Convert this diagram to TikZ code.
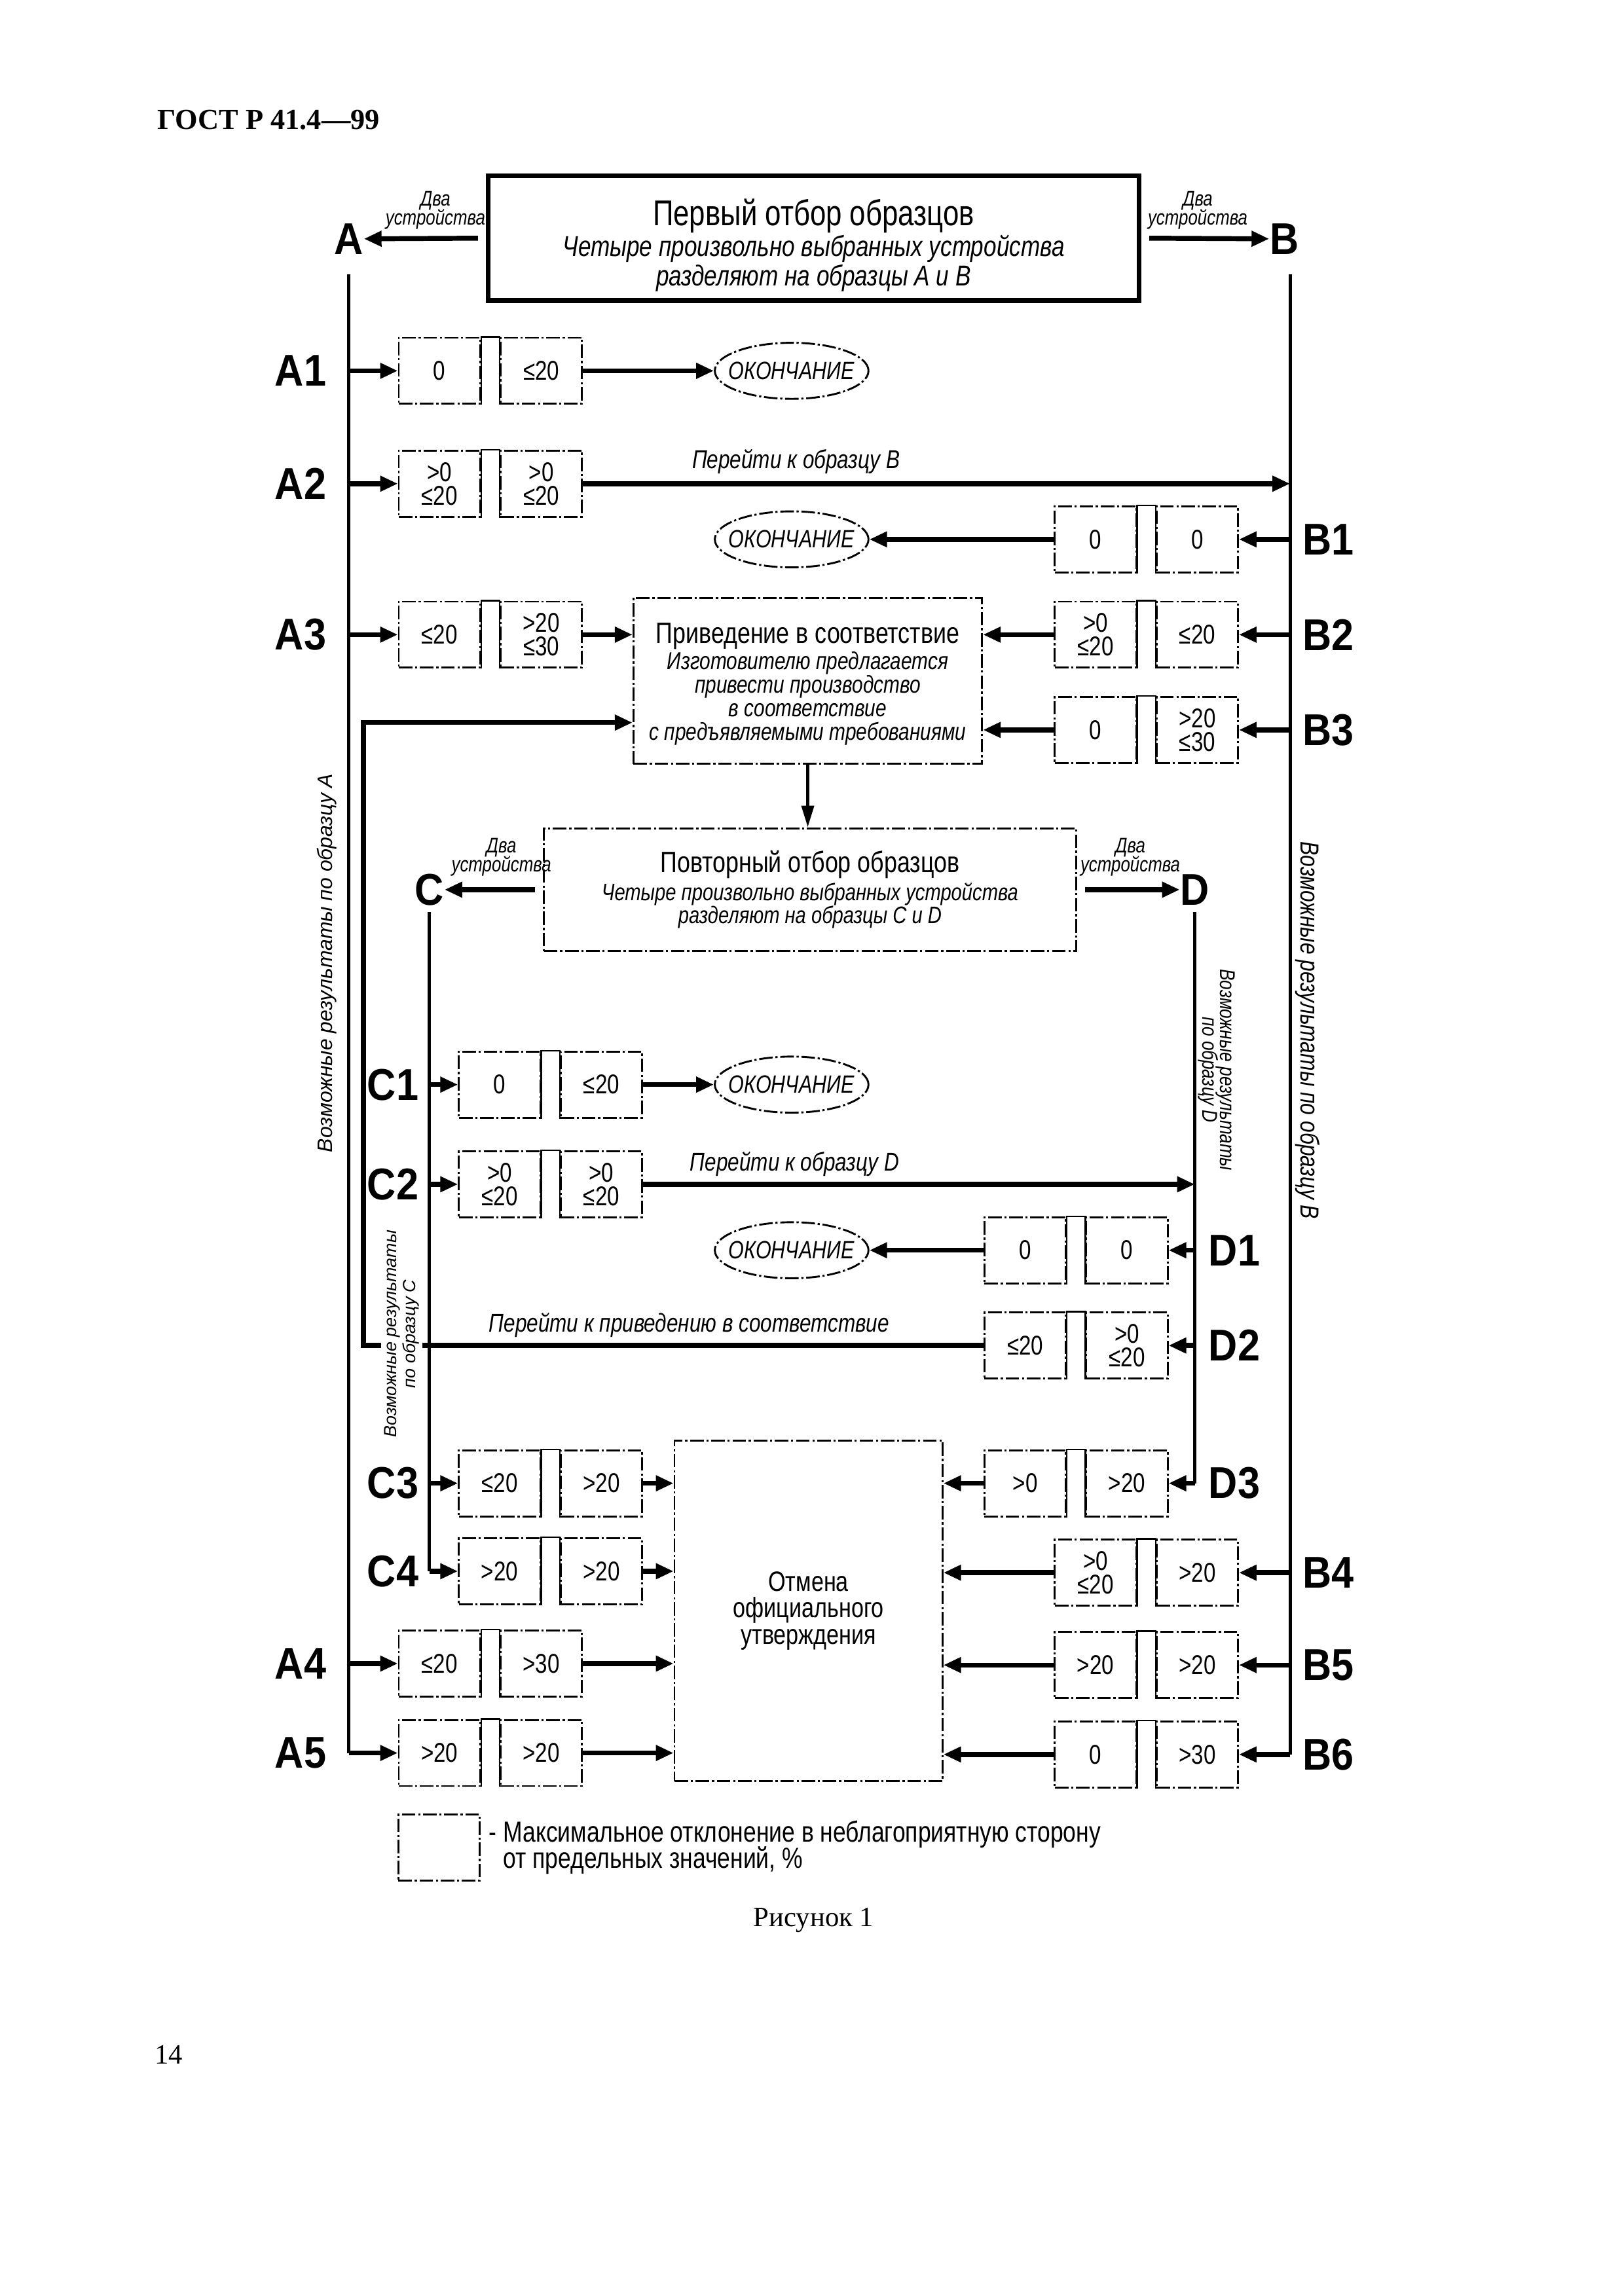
\documentclass[tikz,border=0pt]{standalone}
\usepackage{fontspec}
\setmainfont{Liberation Serif}
\newfontfamily\nar[FakeStretch=0.8]{Liberation Sans}
\newfontfamily\reg{Liberation Sans}
\newfontfamily\lab[FakeStretch=0.9]{Liberation Sans}
\usetikzlibrary{matrix}
\usetikzlibrary{arrows.meta}
\usetikzlibrary{positioning,shapes.geometric}

\newcommand*\fs[2]{\fontsize{#1}{#2}\selectfont\lineskiplimit=-10pt\relax}
\newcommand*\zw[1]{\makebox[0pt]{#1}}

\begin{document}
\begin{tikzpicture}[x=0.18981mm, y=-0.18981mm,
    dd/.style={dash pattern=on 5pt off 1pt on 0.8pt off 1pt},
    res/.style={draw, dd, line width=0.7pt, minimum width=10.54mm, minimum height=8.55mm, inner sep=0pt, align=center, font=\nar\fs{10}{8.7}},
    pair/.style={inner sep=0pt, column sep=2.39mm, nodes={res}},
    endn/.style={ellipse, draw, dd, line width=0.7pt, minimum width=19.9mm, minimum height=7.26mm, inner sep=0pt, font=\nar\itshape\fs{9.2}{10}},
    biglab/.style={inner sep=0pt, font=\lab\bfseries\fs{16.4}{18}},
    rowlab/.style={inner sep=0pt, font=\lab\bfseries\fs{16.4}{18}},
    two/.style={inner sep=0pt, align=center, font=\nar\itshape\fs{7.8}{7}},
    goto/.style={inner sep=0pt, font=\nar\itshape\fs{9.5}{11}},
    conn/.style={line width=1.8pt, -{Triangle[length=6.5pt,width=5.5pt]}},
    bus/.style={line width=1.2pt},
    thinedge/.style={line width=0.6pt}]
\useasboundingbox (0,0) rectangle (1106.4,1566.5);

\node[anchor=west, inner sep=0pt, font=\bfseries\fs{10.7}{12}] (hdr) at (107,82) {ГОСТ Р 41.4—99};

% first sampling
\node[draw, line width=1.8pt, minimum width=84.3mm, minimum height=15.7mm, align=center, font=\nar\itshape\fs{10.6}{10.8}] (first) at (555,162.5)
    {{\upshape\fs{13.2}{15}\rule{0pt}{15pt}Первый отбор образцов}\\[0.5pt] Четыре произвольно выбранных устройства\\ разделяют на образцы А и В};
\node[biglab] (labA) at (238,163) {A};
\node[biglab] (labB) at (876,163) {B};
\node[two] (twoA) at (297,143.5) {Два\\устройства};
\node[two] (twoB) at (817,143.5) {Два\\устройства};
\draw[conn] ([xshift=-1mm]first.west) -- (labA);
\draw[conn] ([xshift=1mm]first.east) -- (labB);
\coordinate (busA) at (238,187);
\coordinate (busB) at (880,187);

% results A
\matrix (a1) [pair] at (334.5,253) { \node (a1p1) {0}; & \node (a1p2) {≤20}; \\ };
\matrix (a2) [pair] at (334.5,330) { \node (a2p1) {>0\\≤20}; & \node (a2p2) {>0\\≤20}; \\ };
\matrix (a3) [pair] at (334.5,433) { \node (a3p1) {≤20}; & \node (a3p2) {>20\\≤30}; \\ };
\matrix (a4) [pair] at (334.5,1135) { \node (a4p1) {≤20}; & \node (a4p2) {>30}; \\ };
\matrix (a5) [pair] at (334.5,1196) { \node (a5p1) {>20}; & \node (a5p2) {>20}; \\ };

% results B
\matrix (b1) [pair] at (782,368) { \node (b1p1) {0}; & \node (b1p2) {0}; \\ };
\matrix (b2) [pair] at (782,433) { \node (b2p1) {>0\\≤20}; & \node (b2p2) {≤20}; \\ };
\matrix (b3) [pair] at (782,498) { \node (b3p1) {0}; & \node (b3p2) {>20\\≤30}; \\ };
\matrix (b4) [pair] at (782,1073) { \node (b4p1) {>0\\≤20}; & \node (b4p2) {>20}; \\ };
\matrix (b5) [pair] at (782,1136) { \node (b5p1) {>20}; & \node (b5p2) {>20}; \\ };
\matrix (b6) [pair] at (782,1197) { \node (b6p1) {0}; & \node (b6p2) {>30}; \\ };

\foreach \n/\y in {A1/253, A2/330, A3/433, A4/1135, A5/1196}
    \node[rowlab] (t\n) at (205,\y) {\n};
\foreach \n/\y in {B1/368, B2/433, B3/498, B4/1073, B5/1136, B6/1197}
    \node[rowlab] (t\n) at (906,\y) {\n};

\node[endn] (endA1) at (540,253) {\zw{ОКОНЧАНИЕ}};
\node[endn] (endB1) at (540,368) {\zw{ОКОНЧАНИЕ}};

% conformity of production
\node[draw, dd, line width=0.7pt, minimum width=45.14mm, minimum height=21.47mm, align=center, font=\nar\itshape\fs{9}{8.66}] (cmp) at (551,464.5)
    {{\upshape\fs{10.8}{12}\rule{0pt}{10pt}Приведение в соответствие}\\[1pt] Изготовителю предлагается\\ привести производство\\ в соответствие\\ с предъявляемыми требованиями};

% second sampling
\node[draw, dd, line width=0.7pt, minimum width=68.9mm, minimum height=15.9mm, align=center, font=\nar\itshape\fs{8.8}{8.66}] (rep) at (552.5,607)
    {{\upshape\fs{10.8}{12}Повторный отбор образцов}\\[1.6pt] Четыре произвольно выбранных устройства\\ разделяют на образцы С и D};
\node[biglab] (labC) at (293,607) {C};
\node[biglab] (labD) at (815,607) {D};
\node[two] (twoC) at (342,585) {Два\\устройства};
\node[two] (twoD) at (771,585) {Два\\устройства};
\draw[conn] ([xshift=-1mm]rep.west) -- (labC);
\draw[conn] ([xshift=1mm]rep.east) -- (labD);
\coordinate (busC) at (293,622);
\coordinate (busD) at (815,622);

% results C
\matrix (c1) [pair] at (375.5,740) { \node (c1p1) {0}; & \node (c1p2) {≤20}; \\ };
\matrix (c2) [pair] at (375.5,808) { \node (c2p1) {>0\\≤20}; & \node (c2p2) {>0\\≤20}; \\ };
\matrix (c3) [pair] at (375.5,1012) { \node (c3p1) {≤20}; & \node (c3p2) {>20}; \\ };
\matrix (c4) [pair] at (375.5,1072) { \node (c4p1) {>20}; & \node (c4p2) {>20}; \\ };

% results D
\matrix (d1) [pair] at (734,853) { \node (d1p1) {0}; & \node (d1p2) {0}; \\ };
\matrix (d2) [pair] at (734,918) { \node (d2p1) {≤20}; & \node (d2p2) {>0\\≤20}; \\ };
\matrix (d3) [pair] at (734,1012) { \node (d3p1) {>0}; & \node (d3p2) {>20}; \\ };

\foreach \n/\y in {C1/740, C2/808, C3/1012, C4/1072}
    \node[rowlab] (t\n) at (268,\y) {\n};
\foreach \n/\y in {D1/853, D2/918, D3/1012}
    \node[rowlab] (t\n) at (842,\y) {\n};

\node[endn] (endC1) at (540,740) {\zw{ОКОНЧАНИЕ}};
\node[endn] (endD1) at (540,853) {\zw{ОКОНЧАНИЕ}};

% withdrawal
\node[draw, dd, line width=0.7pt, minimum width=34.7mm, minimum height=44.04mm, align=center, font=\nar\fs{10.3}{9.7}] (cnc) at (551.5,1099)
    {Отмена\\ официального\\ утверждения};

% buses and branches
\draw[bus] (busA) -- (busA |- a5p1);
\draw[bus] (busB) -- (busB |- b6p2);
\draw[bus] (busC) -- (busC |- c4p1);
\draw[bus] (busD) -- (busD |- d3p2);
\foreach \p in {a1,a2,a3,a4,a5}
    \draw[conn] (busA |- \p p1) -- (\p p1);
\foreach \p in {b1,b2,b3,b4,b5,b6}
    \draw[conn] (busB |- \p p2) -- (\p p2);
\foreach \p in {c1,c2,c3,c4}
    \draw[conn] (busC |- \p p1) -- (\p p1);
\foreach \p in {d1,d2,d3}
    \draw[conn] (busD |- \p p2) -- (\p p2);

\draw[conn] (a1p2) -- (endA1);
\draw[conn] (a2p2) -- (a2p2 -| busB);
\node[goto] (goB) at (543,315) {Перейти к образцу В};
\draw[conn] (a3p2) -- (a3p2 -| cmp.west);
\draw[conn] (b1p1) -- (endB1);
\draw[conn] (b2p1) -- (b2p1 -| cmp.east);
\draw[conn] (b3p1) -- (b3p1 -| cmp.east);
\draw[bus, -{Triangle[length=8pt,width=4.5pt]}] (cmp.south) -- (cmp.south |- rep.north);

\draw[conn] (c1p2) -- (endC1);
\draw[conn] (c2p2) -- (c2p2 -| busD);
\node[goto] (goD) at (542,794) {Перейти к образцу D};
\draw[conn] (d1p1) -- (endD1);
\coordinate (ret) at (248,493);
\draw[conn] (d2p1.west) -| (ret) -- (ret -| cmp.west);
\node[goto] (goCmp) at (470,904) {Перейти к приведению в соответствие};

\foreach \p in {c3,c4,a4,a5}
    \draw[conn] (\p p2) -- (\p p2 -| cnc.west);
\foreach \p in {d3,b4,b5,b6}
    \draw[conn] (\p p1) -- (\p p1 -| cnc.east);

% double edges between the two boxes of a pair
\foreach \p in {a1,a2,a3,a4,a5,b1,b2,b3,b4,b5,b6,c1,c2,c3,c4,d1,d2,d3}
    \draw[thinedge] (\p p1.south east) -- (\p p1.north east) -- (\p p2.north west) -- (\p p2.south west);

% side captions
\node[rotate=90, inner sep=0pt, font=\reg\itshape\fs{7.7}{9}] (resA) at (223,657) {Возможные результаты по образцу А};
\node[rotate=-90, inner sep=0pt, font=\nar\itshape\fs{9.6}{11}] (resB) at (892,703) {Возможные результаты по образцу В};
\node[rotate=-90, inner sep=0pt, align=center, font=\nar\itshape\fs{7.9}{6.5}] (resD) at (830,730) {Возможные результаты\\по образцу D};
\node[rotate=90, inner sep=0.4mm, fill=white, align=center, font=\reg\itshape\fs{6.5}{7}] (resC) at (274,910) {Возможные результаты\\по образцу С};

% legend
\node[res] (legbox) at (299.5,1260.5) {};
\node[anchor=west, inner sep=0pt, align=left, font=\nar\fs{10.7}{9.7}] (legtxt) at ([xshift=1mm]legbox.east)
    {- Максимальное отклонение в неблагоприятную сторону\\\hphantom{- }от предельных значений, \%};

\node[font=\fs{10.3}{12}] (cap) at (555,1310) {Рисунок 1};
\node[font=\fs{10.3}{12}] (pgno) at (115,1402) {14};
\end{tikzpicture}
\end{document}
